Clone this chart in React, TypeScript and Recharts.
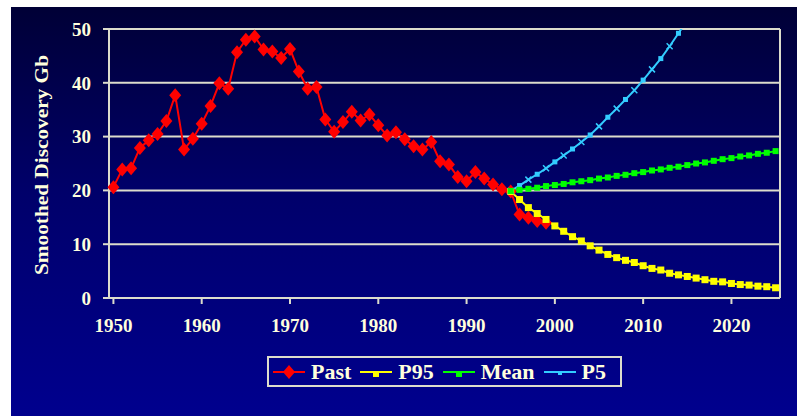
import React from "react";
import { LineChart, Line, XAxis, YAxis, CartesianGrid, Legend } from "recharts";

// categories: one per year
const years = [
  1950, 1951, 1952, 1953, 1954, 1955, 1956, 1957, 1958, 1959,
  1960, 1961, 1962, 1963, 1964, 1965, 1966, 1967, 1968, 1969,
  1970, 1971, 1972, 1973, 1974, 1975, 1976, 1977, 1978, 1979,
  1980, 1981, 1982, 1983, 1984, 1985, 1986, 1987, 1988, 1989,
  1990, 1991, 1992, 1993, 1994, 1995, 1996, 1997, 1998, 1999,
  2000, 2001, 2002, 2003, 2004, 2005, 2006, 2007, 2008, 2009,
  2010, 2011, 2012, 2013, 2014, 2015, 2016, 2017, 2018, 2019,
  2020, 2021, 2022, 2023, 2024, 2025,
];

// 1950 - 1999
const pastValues = [
  20.6, 23.9, 24.1, 27.9, 29.3, 30.5, 32.9, 37.7, 27.6, 29.6,
  32.4, 35.7, 39.9, 38.9, 45.7, 48.0, 48.6, 46.2, 45.8, 44.6,
  46.3, 42.1, 38.9, 39.2, 33.2, 30.9, 32.7, 34.6, 33.0, 34.1,
  32.1, 30.2, 30.8, 29.5, 28.2, 27.6, 29.0, 25.4, 24.8, 22.5,
  21.7, 23.4, 22.2, 21.1, 20.2, 19.8, 15.5, 14.9, 14.3, 14.0,
];

// projections start in 1995
const projectionStart = 1995;
const p95Values = [
  19.8, 18.3, 16.8, 15.7, 14.6, 13.4, 12.4, 11.4, 10.6, 9.7,
  8.9, 8.1, 7.5, 7.0, 6.6, 6.0, 5.5, 5.2, 4.6, 4.3,
  4.0, 3.7, 3.4, 3.1, 3.0, 2.7, 2.5, 2.4, 2.2, 2.1, 1.9,
];
const meanValues = [
  19.9, 20.1, 20.3, 20.5, 20.8, 21.0, 21.2, 21.5, 21.7, 21.9,
  22.2, 22.4, 22.7, 22.9, 23.2, 23.4, 23.7, 23.9, 24.2, 24.4,
  24.7, 25.0, 25.2, 25.5, 25.8, 26.0, 26.3, 26.5, 26.8, 27.0, 27.3,
];
const p5Values = [
  19.9, 20.9, 22.0, 23.0, 24.1, 25.3, 26.5, 27.7, 29.0, 30.3,
  31.9, 33.6, 35.2, 36.9, 38.6, 40.5, 42.5, 44.5, 46.8, 49.2, 51.6,
];

const yTicks = [0, 10, 20, 30, 40, 50];

const rows = years.map((year, i) => {
  const j = year - projectionStart;
  return {
    year,
    past: pastValues[i],
    p95: j >= 0 ? p95Values[j] : undefined,
    mean: j >= 0 ? meanValues[j] : undefined,
    p5: j >= 0 ? p5Values[j] : undefined,
  };
});

const FONT = "'Liberation Serif', 'Times New Roman', serif";
const CREAM = "#ffffdd";
const RULE = "#dcdccc";

const RED = "#ff0000";
const YELLOW = "#ffff00";
const GREEN = "#00ff00";
const CYAN = "#33ccff";

const diamondDot = (props: any) => {
  const { cx, cy, index } = props;
  if (cx == null || cy == null) return <g key={`pd-${index}`} />;
  return (
    <path
      key={`pd-${index}`}
      d={`M${cx} ${cy - 7} L${cx + 6} ${cy} L${cx} ${cy + 7} L${cx - 6} ${cy} Z`}
      fill={RED}
    />
  );
};

const squareDot = (color: string, s: number) => (props: any) => {
  const { cx, cy, index } = props;
  if (cx == null || cy == null) return <g key={`sd-${color}-${index}`} />;
  return <rect key={`sd-${color}-${index}`} x={cx - s / 2} y={cy - s / 2} width={s} height={s} fill={color} />;
};

const p5Dot = (props: any) => {
  const { cx, cy, index } = props;
  if (cx == null || cy == null) return <g key={`cd-${index}`} />;
  if (index % 2 === 0) {
    return <rect key={`cd-${index}`} x={cx - 2.5} y={cy - 2.5} width={5} height={5} fill={CYAN} />;
  }
  return (
    <path
      key={`cd-${index}`}
      d={`M${cx - 3} ${cy - 3} L${cx + 3} ${cy + 3} M${cx - 3} ${cy + 3} L${cx + 3} ${cy - 3}`}
      stroke={CYAN}
      strokeWidth={1.5}
    />
  );
};

const legendItems = [
  { name: "Past", color: RED, marker: "diamond" },
  { name: "P95", color: YELLOW, marker: "square" },
  { name: "Mean", color: GREEN, marker: "square" },
  { name: "P5", color: CYAN, marker: "small" },
];

const LegendBox = () => (
  <div
    style={{
      display: "flex",
      alignItems: "center",
      width: 355,
      height: 31,
      boxSizing: "border-box",
      border: `2px solid ${RULE}`,
      paddingLeft: 4,
      fontFamily: FONT,
      fontWeight: "bold",
      fontSize: 22,
      color: CREAM,
    }}
  >
    {legendItems.map((it) => (
      <div key={it.name} style={{ display: "flex", alignItems: "center", marginRight: 9 }}>
        <svg width={32} height={20} style={{ marginRight: 6 }}>
          <line x1={0} y1={10} x2={32} y2={10} stroke={it.color} strokeWidth={2} />
          {it.marker === "diamond" && <path d="M16 3 L22 10 L16 17 L10 10 Z" fill={it.color} />}
          {it.marker === "square" && <rect x={13} y={10} width={6} height={5} fill={it.color} />}
          {it.marker === "small" && <rect x={14} y={10} width={4} height={3} fill={it.color} />}
        </svg>
        <span style={{ lineHeight: "20px" }}>{it.name}</span>
      </div>
    ))}
  </div>
);

const YTitle = () => (
  <text
    x={31}
    y={158}
    transform="rotate(-90 31 158)"
    textAnchor="middle"
    dominantBaseline="central"
    fill={CREAM}
    fontFamily={FONT}
    fontWeight="bold"
    fontSize={18}
    textLength={220}
    lengthAdjust="spacingAndGlyphs"
  >
    Smoothed Discovery Gb
  </text>
);

const tickStyle = { fill: CREAM, fontSize: 19, fontFamily: FONT, fontWeight: "bold" };

export default function App() {
  return (
    <div style={{ position: "fixed", inset: 0, background: "#ffffff" }}>
      <div
        style={{
          position: "absolute",
          left: 11,
          top: 7,
          width: 786,
          height: 409,
          background: "linear-gradient(to bottom, #000036 0%, #00006a 45%, #00008e 100%)",
        }}
      >
        <LineChart width={786} height={409} data={rows} margin={{ top: 22, right: 17, left: 0, bottom: 78 }}>
          <CartesianGrid
            stroke={RULE}
            strokeWidth={2}
            vertical={true}
            verticalCoordinatesGenerator={({ offset }: any) => [offset.left + offset.width]}
          />
          <XAxis
            dataKey="year"
            type="category"
            scale="band"
            interval={9}
            tick={tickStyle}
            tickSize={6}
            tickMargin={15}
            tickLine={{ stroke: RULE, strokeWidth: 2 }}
            axisLine={{ stroke: RULE, strokeWidth: 2 }}
            height={40}
          />
          <YAxis
            type="number"
            domain={[0, 50]}
            ticks={yTicks}
            allowDataOverflow
            width={98}
            tick={tickStyle}
            tickSize={6}
            tickMargin={12}
            tickLine={{ stroke: RULE, strokeWidth: 2 }}
            axisLine={{ stroke: RULE, strokeWidth: 2 }}
            label={{ content: () => <YTitle /> }}
          />
          <Legend
            layout="horizontal"
            verticalAlign="middle"
            align="center"
            content={() => <LegendBox />}
            wrapperStyle={{ position: "absolute", left: 256, top: 349, width: 355, height: 31 }}
          />
          <Line
            type="linear"
            dataKey="past"
            stroke={RED}
            strokeWidth={2}
            dot={diamondDot}
            isAnimationActive={false}
            connectNulls={false}
          />
          <Line
            type="linear"
            dataKey="p95"
            stroke={YELLOW}
            strokeWidth={2}
            dot={squareDot(YELLOW, 7)}
            isAnimationActive={false}
          />
          <Line
            type="linear"
            dataKey="p5"
            stroke={CYAN}
            strokeWidth={2}
            dot={p5Dot}
            isAnimationActive={false}
          />
          <Line
            type="linear"
            dataKey="mean"
            stroke={GREEN}
            strokeWidth={2}
            dot={squareDot(GREEN, 6)}
            isAnimationActive={false}
          />
        </LineChart>
      </div>
    </div>
  );
}
